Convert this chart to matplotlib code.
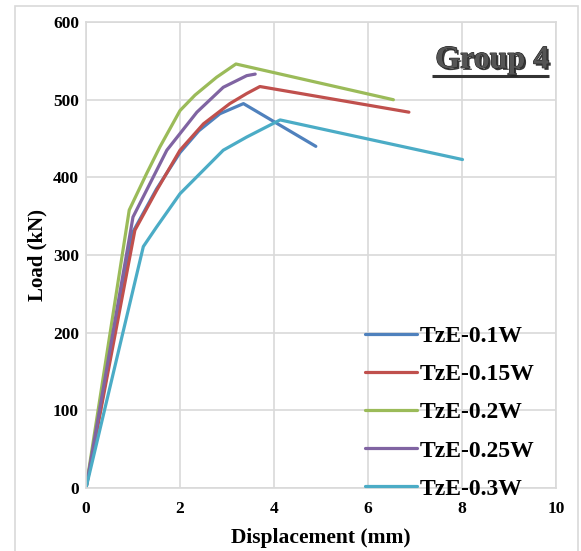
import numpy as np
import matplotlib.pyplot as plt
import matplotlib.patheffects as pe

# data (displacement mm, load kN)
x_01 = [0, 1.0, 1.5, 2.0, 2.4, 2.85, 3.35, 4.89]
y_01 = [0, 330, 385, 432, 460, 482, 495, 440]

x_015 = [0, 1.04, 1.5, 2.0, 2.5, 3.06, 3.42, 3.7, 6.87]
y_015 = [0, 332, 383, 435, 469, 495, 508, 517, 484]

x_02 = [0, 0.92, 1.29, 1.57, 2.0, 2.32, 2.78, 3.19, 6.54]
y_02 = [0, 358, 405, 439, 486, 506, 529, 546, 500]

x_025 = [0, 1.0, 1.72, 2.36, 2.92, 3.42, 3.6]
y_025 = [0, 349, 435, 484, 516, 531, 533]

x_03 = [0, 1.22, 1.5, 2.0, 2.92, 3.42, 4.13, 8.01]
y_03 = [0, 311, 336, 379, 435, 452, 474, 423]

labels = ["TzE-0.1W", "TzE-0.15W", "TzE-0.2W", "TzE-0.25W", "TzE-0.3W"]
colors = ["#4F81BD", "#C0504D", "#9BBB59", "#8064A2", "#4BACC6"]

serif = ["Liberation Serif", "DejaVu Serif"]

fig = plt.figure(figsize=(5.81, 5.51), dpi=100)
ax = fig.add_axes([0.148, 0.114, 0.809, 0.846])

series = [(x_01, y_01), (x_015, y_015), (x_02, y_02), (x_025, y_025), (x_03, y_03)]
for (xs, ys), lab, c in zip(series, labels, colors):
    ax.plot(xs, ys, color=c, lw=2.3, label=lab, solid_capstyle="round",
            solid_joinstyle="round")

ax.set_xlim(0, 10)
ax.set_ylim(0, 600)
ax.set_xticks(np.arange(0, 11, 2))
ax.set_yticks(np.arange(0, 601, 100))
ax.grid(True, color="#d9d9d9", lw=1.2)
ax.set_axisbelow(True)
for s in ax.spines.values():
    s.set_color("#d9d9d9")
    s.set_linewidth(1.2)
ax.tick_params(axis="x", length=0, pad=9)
ax.tick_params(axis="y", length=0, pad=5)
for t in ax.get_xticklabels() + ax.get_yticklabels():
    t.set_family(serif)
    t.set_fontweight("bold")
    t.set_fontsize(12.5)

ax.set_xlabel("Displacement (mm)", family=serif, fontweight="bold", fontsize=15.5, labelpad=8)
ax.set_ylabel("Load (kN)", family=serif, fontweight="bold", fontsize=15, labelpad=4)

leg = ax.legend(loc="lower right", bbox_to_anchor=(0.999, -0.07), frameon=False,
                prop={"family": serif, "weight": "bold", "size": 17},
                handlelength=2.2, handletextpad=0.1, labelspacing=0.7)

# title with shadow and underline
ax.text(0.986, 0.918, "Group 4", transform=ax.transAxes, ha="right", va="center",
        family=serif, fontweight="bold", fontsize=23, color="#555555",
        path_effects=[pe.withSimplePatchShadow(offset=(1.5, -1.5), shadow_rgbFace="#222222", alpha=0.9),
                      pe.Stroke(linewidth=0.8, foreground="#222222"), pe.Normal()])
ax.plot([0.736, 0.986], [0.884, 0.884], transform=ax.transAxes, color="#333333", lw=2.2,
        solid_capstyle="butt")

# outer chart frame
fig.patches.append(plt.Rectangle((0.025, -0.01), 0.97, 1.0, transform=fig.transFigure,
                                 fill=False, edgecolor="#d9d9d9", lw=1.2))

fig.savefig("out.png", dpi=100)
